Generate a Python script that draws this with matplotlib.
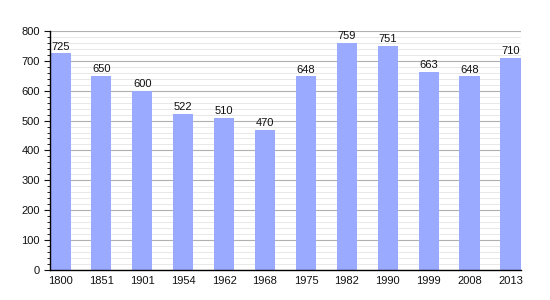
"""Population bar chart by census year."""

import matplotlib.pyplot as plt
from matplotlib.ticker import MultipleLocator

YEARS = ["1800", "1851", "1901", "1954", "1962", "1968",
         "1975", "1982", "1990", "1999", "2008", "2013"]
POPULATION = [725, 650, 600, 522, 510, 470, 648, 759, 751, 663, 648, 710]

BAR_COLOR = "#99aaff"


def main() -> None:
    plt.rcParams.update({
        "font.family": ["Liberation Sans", "DejaVu Sans"],
        "font.size": 8,
    })

    fig = plt.figure(figsize=(5.5, 3.0), dpi=100)
    ax = fig.add_axes([0.091, 0.1, 0.856, 0.797])

    x = range(len(YEARS))
    bars = ax.bar(x, POPULATION, width=0.5, color=BAR_COLOR, zorder=2)
    for rect, val in zip(bars, POPULATION):
        ax.text(rect.get_x() + rect.get_width() / 2, val + 6, str(val),
                ha="center", va="bottom", fontsize=8, color="#111111")

    ax.set_xlim(-0.25, len(YEARS) - 0.75)
    ax.set_ylim(0, 800)
    ax.set_xticks(list(x))
    ax.set_xticklabels(YEARS)
    ax.tick_params(axis="x", length=0, pad=4, colors="#111111")

    ax.yaxis.set_major_locator(MultipleLocator(100))
    ax.yaxis.set_minor_locator(MultipleLocator(20))
    ax.tick_params(axis="y", which="major", length=4, width=0.8, direction="out",
                   colors="#111111")
    ax.tick_params(axis="y", which="minor", length=2.5, width=0.6, direction="out")

    ax.grid(True, axis="y", which="major", color="#b0b0b0", linewidth=0.8, zorder=0)
    ax.grid(True, axis="y", which="minor", color="#e4e4e4", linewidth=0.6, zorder=0)
    ax.set_axisbelow(True)

    ax.spines["top"].set_visible(False)
    ax.spines["right"].set_visible(False)
    ax.spines["left"].set_linewidth(1.0)
    ax.spines["bottom"].set_linewidth(1.0)

    fig.savefig("out.png", dpi=100)
    plt.close(fig)


if __name__ == "__main__":
    main()
